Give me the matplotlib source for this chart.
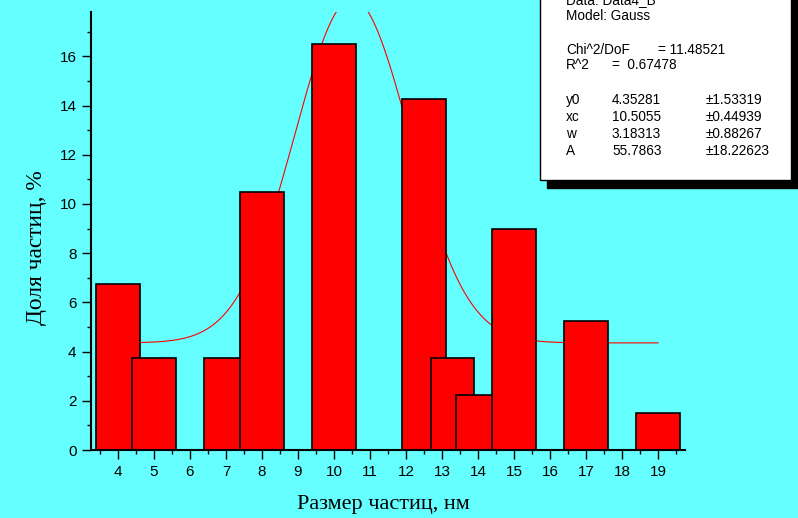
"""
particle size histogram with gauss fit
"""

import numpy as np
import matplotlib
matplotlib.use('Agg')
import matplotlib.pyplot as plt
from matplotlib.patches import Rectangle

# data
sizes = [4, 5, 7, 8, 10, 12.5, 13.3, 14, 15, 17, 19]
fractions = [6.75, 3.75, 3.75, 10.5, 16.5, 14.25, 3.75, 2.25, 9.0, 5.25, 1.5]
xticks = list(range(4, 20))

# gauss fit parameters (as reported in the box)
y0, xc, w, A = 4.35281, 10.5055, 3.18313, 55.7863
fit_lines = [
    ("Data: Data4_B", None, None),
    ("Model: Gauss", None, None),
    ("Chi^2/DoF", "= 11.48521", None),
    ("R^2", "=  0.67478", None),
    ("y0", "4.35281", "\u00b11.53319"),
    ("xc", "10.5055", "\u00b10.44939"),
    ("w", "3.18313", "\u00b10.88267"),
    ("A", "55.7863", "\u00b118.22623"),
]

BG = '#66ffff'
W, H = 798, 518

fig = plt.figure(figsize=(W / 100, H / 100), dpi=100, facecolor=BG)
ax = fig.add_axes([91 / W, 1 - 450 / H, (685 - 91) / W, (450 - 12) / H])
ax.set_facecolor(BG)

# fitted curve, drawn behind the bars
xf = np.linspace(min(sizes), max(sizes), 400)
yf = y0 + A / (w * np.sqrt(np.pi / 2)) * np.exp(-2 * ((xf - xc) / w) ** 2)
ax.plot(xf, yf, color='red', lw=0.8, zorder=1)

ax.bar(sizes, fractions, width=1.2, color='red', edgecolor='black', lw=1.2, zorder=2)

ax.set_xlim(3.25, 19.75)
ax.set_ylim(0, 17.8)
ax.set_xticks(xticks)
ax.set_xticks(np.arange(3.5, 20, 1), minor=True)
ax.set_yticks(range(0, 17, 2))
ax.set_yticks(range(1, 18, 2), minor=True)
ax.tick_params(which='major', direction='out', length=6.5, width=1,
               labelsize=11, pad=4)
ax.tick_params(which='minor', direction='out', length=3.2, width=1)
for t in ax.get_xticklabels() + ax.get_yticklabels():
    t.set_fontfamily('Liberation Sans')
for s in ['top', 'right']:
    ax.spines[s].set_visible(False)
for s in ['left', 'bottom']:
    ax.spines[s].set_linewidth(1.5)

fig.text(383 / W, 1 - 505 / H, 'Размер частиц, нм', family='Liberation Serif',
         fontsize=16, ha='center', va='center')
fig.text(37 / W, 1 - 248 / H, 'Доля частиц, %', family='Liberation Serif',
         fontsize=16.8, ha='center', va='center', rotation=90)

# fit results box with shadow
bx0, bx1, by1 = 540, 791, 180
fig.add_artist(Rectangle(((bx0 + 7) / W, 1 - (by1 + 8) / H), (bx1 - bx0) / W, 1,
                         transform=fig.transFigure, facecolor='black', edgecolor='black'))
fig.add_artist(Rectangle((bx0 / W, 1 - by1 / H), (bx1 - bx0) / W, 1,
                         transform=fig.transFigure, facecolor='white',
                         edgecolor='black', lw=1))

baselines = [4, 20, 54, 69, 104, 121, 138, 155]
for (a, b, c), yb in zip(fit_lines, baselines):
    yy = 1 - yb / H
    kw = dict(family='Liberation Sans', fontsize=9.8, va='baseline')
    fig.text(566 / W, yy, a, **kw)
    if b is not None:
        bx = 658 if a.startswith('Chi') else 612
        fig.text(bx / W, yy, b, **kw)
    if c is not None:
        fig.text(706 / W, yy, c, **kw)

fig.savefig('out.png', dpi=100, facecolor=BG)
